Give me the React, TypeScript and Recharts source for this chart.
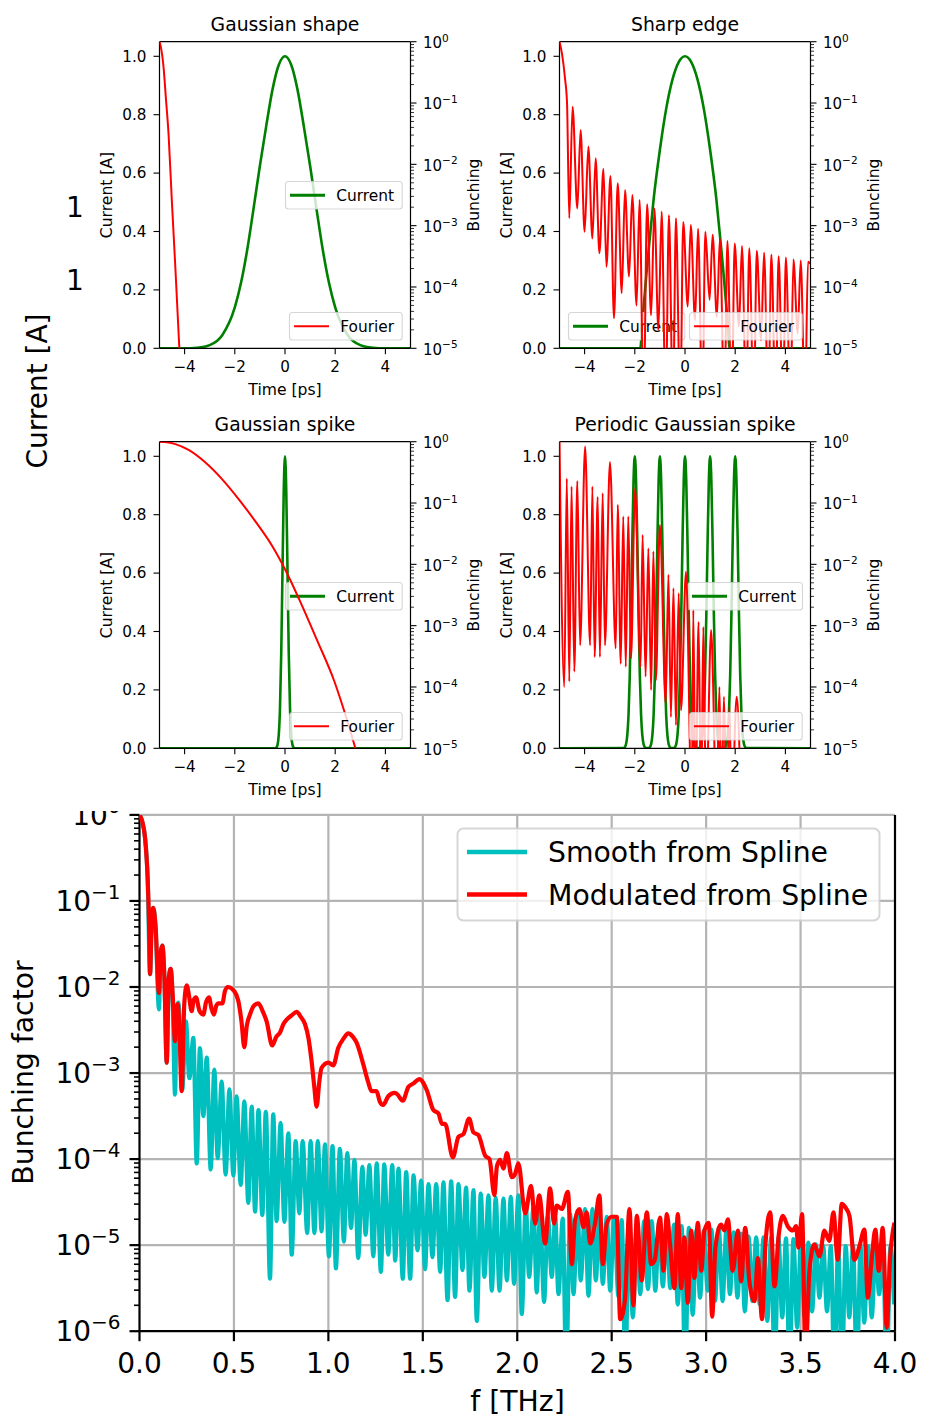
import React from 'react';
import { ComposedChart, Line, XAxis, YAxis, ReferenceLine } from 'recharts';

const FONT = '"DejaVu Sans", Verdana, sans-serif';
const GREEN = '#008000';
const RED = '#ff0000';
const CYAN = '#00bfbf';

// ---------------- axis ticks ----------------
const timeTicks = [-4, -2, 0, 2, 4];
const currentTicks = [0, 0.2, 0.4, 0.6, 0.8, 1.0];
const bunchMajorTicks = [1e-5, 1e-4, 1e-3, 1e-2, 1e-1, 1];
const bunchMinorDecades = [1e-5, 1e-4, 1e-3, 1e-2, 1e-1];
const minorMantissas = [2, 3, 4, 5, 6, 7, 8, 9];
const bunchMinorTicks = bunchMinorDecades.flatMap((d) => minorMantissas.map((m) => m * d));
const freqTicks = [0, 0.5, 1.0, 1.5, 2.0, 2.5, 3.0, 3.5, 4.0];
const freqGrid = [0.5, 1.0, 1.5, 2.0, 2.5, 3.0, 3.5];
const bigMajorTicks = [1e-6, 1e-5, 1e-4, 1e-3, 1e-2, 1e-1, 1];
const bigMinorDecades = [1e-6, 1e-5, 1e-4, 1e-3, 1e-2, 1e-1];
const bigMinorTicks = bigMinorDecades.flatMap((d) => minorMantissas.map((m) => m * d));
const bigGrid = [1e-5, 1e-4, 1e-3, 1e-2, 1e-1, 1];

// ---------------- panel 1: Gaussian shape ----------------
const gaussTime = [-5, -4, -3.5, -3, -2.5, -2, -1.75, -1.5, -1.25, -1, -0.75, -0.5, -0.25, 0, 0.25, 0.5, 0.75, 1, 1.25, 1.5, 1.75, 2, 2.5, 3, 3.5, 4, 5];
const gaussCurrent = [0, 0, 0.002, 0.011, 0.045, 0.14, 0.225, 0.34, 0.48, 0.625, 0.76, 0.885, 0.97, 1, 0.97, 0.885, 0.76, 0.625, 0.48, 0.34, 0.225, 0.14, 0.045, 0.011, 0.002, 0, 0];
// [time, log10 bunching]
const gaussFourier: [number, number][] = [
  [-5, 0], [-4.95, -0.08], [-4.9, -0.2], [-4.84, -0.41], [-4.74, -0.95], [-4.64, -1.5],
  [-4.51, -2.58], [-4.37, -3.67], [-4.21, -5.0], [-4.1, -6.0],
];

// ---------------- panel 2: Sharp edge ----------------
const sharpTime = [-5, -1.78, -1.7, -1.6, -1.5, -1.4, -1.25, -1, -0.75, -0.5, -0.25, 0, 0.25, 0.5, 0.75, 1, 1.25, 1.4, 1.5, 1.6, 1.7, 1.78, 5];
const sharpCurrent = [0, 0, 0.09, 0.19, 0.29, 0.38, 0.51, 0.68, 0.82, 0.92, 0.98, 1, 0.98, 0.92, 0.82, 0.68, 0.51, 0.38, 0.29, 0.19, 0.09, 0, 0];
const sharpFourier: [number, number][] = [
  [-5, 0], [-4.9, -0.2], [-4.78, -0.6], [-4.7, -1.0],
  [-4.61, -2.88], [-4.48, -1.06], [-4.29, -2.72], [-4.16, -1.44], [-4.0, -3.1], [-3.85, -1.71],
  [-3.69, -3.21], [-3.56, -1.9], [-3.41, -3.45], [-3.25, -2.07], [-3.13, -3.67], [-2.97, -2.19],
  [-2.83, -4.51], [-2.68, -2.31], [-2.52, -4.1], [-2.39, -2.42], [-2.23, -3.83], [-2.1, -2.5],
  [-1.93, -4.3], [-1.81, -2.58], [-1.65, -6], [-1.51, -2.65], [-1.35, -4.46], [-1.22, -2.72],
  [-1.06, -4.7], [-0.93, -2.77], [-0.77, -6], [-0.64, -2.83], [-0.48, -6], [-0.36, -2.88],
  [-0.19, -6], [-0.07, -2.94], [0.11, -4.32], [0.23, -2.99], [0.4, -4.54], [0.52, -3.05],
  [0.69, -6], [0.81, -3.1], [0.98, -4.21], [1.1, -3.15], [1.27, -4.49], [1.39, -3.21],
  [1.57, -6], [1.69, -3.25], [1.86, -6], [1.98, -3.29], [2.15, -4.65], [2.27, -3.33],
  [2.44, -6], [2.56, -3.37], [2.74, -6], [2.86, -3.41], [3.03, -4.87], [3.15, -3.44],
  [3.32, -6], [3.44, -3.47], [3.61, -6], [3.73, -3.5], [3.9, -6], [4.02, -3.52],
  [4.2, -6], [4.32, -3.55], [4.49, -4.76], [4.61, -3.57], [4.78, -6], [4.9, -3.59], [5.0, -3.62],
];

// ---------------- panel 3: Gaussian spike ----------------
const spikeTime = [-5, -0.4, -0.35, -0.3, -0.25, -0.2, -0.15, -0.1, -0.05, 0, 0.05, 0.1, 0.15, 0.2, 0.25, 0.3, 0.35, 0.4, 5];
const spikeCurrent = [0, 0, 0.002, 0.011, 0.044, 0.135, 0.325, 0.607, 0.882, 1, 0.882, 0.607, 0.325, 0.135, 0.044, 0.011, 0.002, 0, 0];
const spikeFourier: [number, number][] = [
  [-5, 0], [-4.7, -0.01], [-4.37, -0.04], [-3.84, -0.135], [-3.17, -0.34], [-2.51, -0.61],
  [-1.84, -0.94], [-1.18, -1.3], [-0.51, -1.7], [0.05, -2.12], [0.62, -2.62], [1.28, -3.24],
  [1.95, -3.89], [2.35, -4.38], [2.79, -4.98], [3.2, -5.6],
];

// ---------------- panel 4: Periodic Gaussian spike ----------------
const periodicCenters = [-2, -1, 0, 1, 2];
const periodicOffsets = [-0.45, -0.4, -0.35, -0.3, -0.25, -0.2, -0.15, -0.1, -0.05, 0, 0.05, 0.1, 0.15, 0.2, 0.25, 0.3, 0.35, 0.4, 0.45];
const periodicShape = [0.001, 0.004, 0.014, 0.044, 0.114, 0.25, 0.458, 0.707, 0.917, 1, 0.917, 0.707, 0.458, 0.25, 0.114, 0.044, 0.014, 0.004, 0.001];
const periodicFourier: [number, number][] = [
  [-5, 0], [-4.81, -4.0], [-4.71, -0.6], [-4.61, -3.91], [-4.52, -0.73], [-4.41, -3.75],
  [-4.29, -0.64], [-4.18, -3.32], [-3.98, -0.08], [-3.78, -3.32], [-3.69, -0.73], [-3.6, -3.51],
  [-3.48, -0.9], [-3.39, -3.51], [-3.28, -0.84], [-3.19, -3.32], [-2.99, -0.33], [-2.76, -3.37],
  [-2.68, -1.03], [-2.56, -3.62], [-2.46, -1.22], [-2.36, -3.67], [-2.26, -1.22], [-2.15, -3.53],
  [-1.99, -0.76], [-1.77, -3.67], [-1.69, -1.52], [-1.57, -3.83], [-1.46, -1.74], [-1.35, -4.05],
  [-1.26, -1.79], [-1.16, -3.89], [-1.0, -1.36], [-0.77, -4.27], [-0.66, -2.17], [-0.56, -4.49],
  [-0.46, -2.39], [-0.36, -4.62], [-0.25, -2.47], [-0.16, -4.38], [0.04, -2.12], [0.27, -6],
  [0.33, -2.75], [0.42, -6], [0.54, -2.94], [0.64, -6], [0.73, -3.02], [0.84, -6],
  [1.04, -3.07], [1.26, -6], [1.37, -4.0], [1.46, -6], [1.55, -4.16], [1.66, -6],
  [1.77, -4.32], [1.86, -6], [2.06, -4.16], [2.26, -6], [2.5, -7],
];

// ---------------- bottom: bunching factor vs frequency ----------------
// [f (THz), log10 bunching]
const smoothLog: [number, number][] = [
  [0, 0], [0.015, -0.08], [0.029, -0.26], [0.043, -0.73], [0.056, -1.85], [0.065, -1.2],
  [0.073, -1.08], [0.085, -1.3], [0.103, -2.26], [0.112, -1.6], [0.121, -1.52], [0.132, -1.9],
  [0.144, -2.88], [0.155, -1.9], [0.165, -1.79], [0.176, -2.2], [0.188, -3.25], [0.197, -2.3],
  [0.206, -2.18], [0.226, -3.2], [0.246, -2.4], [0.264, -3.06], [0.285, -2.59], [0.303, -4.05],
  [0.32, -2.71], [0.338, -3.5], [0.356, -2.82], [0.377, -4.12], [0.396, -2.96], [0.414, -3.99],
  [0.435, -3.1], [0.456, -4.18], [0.476, -3.19], [0.497, -4.19], [0.514, -3.27], [0.536, -4.3],
  [0.555, -3.33], [0.576, -4.51], [0.594, -3.39], [0.612, -4.61], [0.63, -3.43], [0.65, -4.65],
  [0.669, -3.45], [0.691, -5.39], [0.708, -3.48], [0.726, -4.72], [0.747, -3.58], [0.767, -4.73],
  [0.788, -3.7], [0.806, -5.11], [0.827, -3.79], [0.846, -4.63], [0.864, -3.79], [0.888, -4.86],
  [0.906, -3.79], [0.926, -4.86], [0.944, -3.79], [0.964, -4.84], [0.982, -3.83], [1.003, -5.13],
  [1.022, -3.85], [1.04, -5.27], [1.061, -3.88], [1.082, -4.96], [1.1, -3.93], [1.12, -4.8],
  [1.138, -4.01], [1.158, -5.15], [1.18, -4.09], [1.197, -4.88], [1.217, -4.07], [1.238, -5.13],
  [1.256, -4.05], [1.278, -5.31], [1.296, -4.06], [1.317, -5.11], [1.338, -4.07], [1.354, -5.18],
  [1.371, -4.11], [1.394, -5.39], [1.412, -4.15], [1.433, -5.39], [1.451, -4.19], [1.472, -5.06],
  [1.491, -4.25], [1.512, -5.28], [1.53, -4.29], [1.551, -5.14], [1.571, -4.29], [1.592, -5.31],
  [1.609, -4.27], [1.631, -5.64], [1.65, -4.26], [1.671, -5.6], [1.689, -4.29], [1.71, -5.29],
  [1.729, -4.33], [1.747, -5.53], [1.768, -4.36], [1.786, -5.88], [1.807, -4.4], [1.826, -5.37],
  [1.848, -4.42], [1.865, -5.53], [1.886, -4.45], [1.906, -5.53], [1.927, -4.46], [1.945, -5.41],
  [1.966, -4.44], [1.983, -5.45], [2.006, -4.42], [2.024, -5.8], [2.045, -4.52], [2.063, -5.37],
  [2.086, -4.56], [2.103, -5.55], [2.121, -4.62], [2.142, -5.66], [2.162, -4.66], [2.183, -5.37],
  [2.201, -4.67], [2.218, -5.57], [2.241, -4.69], [2.259, -6.5], [2.28, -4.64], [2.298, -5.57],
  [2.319, -4.6], [2.336, -5.41], [2.359, -4.58], [2.377, -5.59], [2.398, -4.58], [2.416, -5.41],
  [2.435, -4.64], [2.453, -5.45], [2.474, -4.67], [2.492, -5.53], [2.513, -4.67], [2.536, -5.6],
  [2.553, -4.71], [2.573, -6.5], [2.59, -4.73], [2.612, -5.84], [2.633, -4.75], [2.651, -5.57],
  [2.672, -4.72], [2.692, -5.51], [2.712, -4.72], [2.731, -5.53], [2.751, -4.73], [2.771, -5.48],
  [2.791, -4.74], [2.81, -5.5], [2.83, -4.76], [2.85, -5.69], [2.87, -4.78], [2.889, -6.5],
  [2.909, -4.8], [2.929, -5.81], [2.949, -4.82], [2.968, -5.61], [2.988, -4.83], [3.008, -5.53],
  [3.028, -4.82], [3.047, -5.65], [3.067, -4.8], [3.087, -5.65], [3.107, -4.83], [3.126, -5.57],
  [3.146, -4.85], [3.166, -5.61], [3.186, -4.87], [3.205, -5.77], [3.225, -4.9], [3.245, -5.65],
  [3.265, -4.91], [3.284, -5.69], [3.304, -4.91], [3.324, -5.88], [3.344, -4.91], [3.363, -6.5],
  [3.383, -4.91], [3.403, -5.84], [3.423, -4.92], [3.442, -6.5], [3.462, -4.93], [3.482, -5.96],
  [3.502, -4.95], [3.521, -5.84], [3.541, -4.97], [3.561, -5.77], [3.581, -4.99], [3.6, -5.61],
  [3.62, -5.01], [3.64, -5.77], [3.66, -5.01], [3.679, -6.5], [3.699, -5.01], [3.719, -6.5],
  [3.739, -5.01], [3.758, -5.84], [3.778, -5.01], [3.798, -6.5], [3.818, -5.01], [3.837, -5.9],
  [3.857, -5.01], [3.877, -5.84], [3.897, -5.02], [3.916, -5.57], [3.936, -5.03], [3.956, -6.5],
  [3.976, -5.02], [3.995, -5.69],
];

const modulatedLog: [number, number][] = [
  [0, 0], [0.015, -0.08], [0.029, -0.26], [0.043, -0.73], [0.05, -1.2], [0.056, -1.85],
  [0.065, -1.2], [0.073, -1.08], [0.085, -1.3], [0.103, -2.07], [0.112, -1.6], [0.121, -1.52],
  [0.132, -1.9], [0.144, -2.88], [0.155, -1.9], [0.165, -1.79], [0.176, -2.1], [0.188, -2.63],
  [0.195, -2.3], [0.202, -2.2], [0.212, -2.5], [0.223, -3.21], [0.237, -2.2], [0.25, -1.98],
  [0.262, -2.1], [0.276, -2.28], [0.287, -2.15], [0.299, -2.12], [0.318, -2.28], [0.338, -2.32],
  [0.352, -2.18], [0.368, -2.12], [0.381, -2.25], [0.394, -2.32], [0.406, -2.22], [0.418, -2.19],
  [0.439, -2.19], [0.452, -2.05], [0.467, -2.0], [0.502, -2.05], [0.523, -2.16], [0.54, -2.4],
  [0.555, -2.7], [0.568, -2.45], [0.585, -2.32], [0.605, -2.22], [0.629, -2.19], [0.652, -2.28],
  [0.673, -2.4], [0.703, -2.68], [0.724, -2.58], [0.744, -2.53], [0.762, -2.43], [0.779, -2.38],
  [0.805, -2.33], [0.832, -2.29], [0.855, -2.35], [0.876, -2.43], [0.895, -2.6], [0.911, -2.86],
  [0.925, -3.15], [0.938, -3.39], [0.952, -3.1], [0.964, -2.94], [1.0, -2.88], [1.026, -2.91],
  [1.052, -2.71], [1.08, -2.6], [1.105, -2.54], [1.13, -2.58], [1.15, -2.65], [1.185, -2.9],
  [1.21, -3.1], [1.228, -3.21], [1.255, -3.21], [1.272, -3.33], [1.29, -3.37], [1.317, -3.27],
  [1.35, -3.23], [1.362, -3.24], [1.394, -3.32], [1.424, -3.16], [1.451, -3.12], [1.482, -3.07],
  [1.521, -3.2], [1.556, -3.43], [1.583, -3.47], [1.601, -3.59], [1.618, -3.59], [1.659, -3.98],
  [1.689, -3.74], [1.715, -3.71], [1.745, -3.53], [1.768, -3.69], [1.794, -3.72], [1.83, -3.96],
  [1.853, -4.0], [1.879, -4.42], [1.892, -4.09], [1.909, -4.01], [1.927, -4.11], [1.945, -3.93],
  [1.971, -4.21], [1.989, -4.17], [2.006, -4.05], [2.042, -4.63], [2.073, -4.31], [2.095, -4.75],
  [2.116, -4.42], [2.148, -4.98], [2.174, -4.34], [2.195, -4.75], [2.209, -4.54], [2.236, -4.58],
  [2.268, -4.38], [2.289, -5.22], [2.306, -4.71], [2.329, -4.58], [2.351, -4.79], [2.368, -4.62],
  [2.386, -4.98], [2.412, -4.75], [2.435, -4.42], [2.453, -5.22], [2.474, -4.75], [2.5, -4.67],
  [2.527, -4.67], [2.545, -5.86], [2.57, -5.64], [2.594, -4.58], [2.615, -5.7], [2.633, -4.66],
  [2.659, -5.41], [2.686, -4.62], [2.709, -5.22], [2.727, -5.18], [2.756, -4.68], [2.774, -5.3],
  [2.792, -4.64], [2.809, -4.99], [2.832, -5.5], [2.85, -4.64], [2.868, -5.5], [2.885, -4.91],
  [2.903, -5.67], [2.921, -4.83], [2.938, -5.38], [2.956, -4.74], [2.974, -5.3], [2.991, -4.83],
  [3.014, -4.74], [3.032, -5.83], [3.049, -5.03], [3.079, -4.76], [3.097, -4.83], [3.115, -4.7],
  [3.141, -5.3], [3.168, -4.83], [3.185, -5.42], [3.207, -4.8], [3.229, -5.42], [3.256, -5.65],
  [3.274, -5.15], [3.296, -5.86], [3.314, -4.99], [3.339, -4.62], [3.362, -5.48], [3.385, -4.87],
  [3.406, -4.66], [3.432, -4.78], [3.459, -4.83], [3.476, -4.78], [3.489, -5.03], [3.508, -4.64],
  [3.526, -6.3], [3.547, -5.3], [3.573, -4.99], [3.6, -5.13], [3.626, -4.83], [3.652, -4.95],
  [3.674, -4.62], [3.697, -5.17], [3.718, -4.52], [3.737, -4.56], [3.759, -4.66], [3.785, -5.17],
  [3.812, -5.01], [3.838, -4.82], [3.856, -5.61], [3.877, -5.15], [3.896, -4.82], [3.914, -5.3],
  [3.935, -4.8], [3.956, -5.96], [3.974, -5.15], [3.997, -4.74],
];

// ---------------- tables ----------------
type Pt = { x: number; y: number };
const linTable = (xs: number[], ys: number[]): Pt[] => xs.map((x, i) => ({ x, y: ys[i] }));
const logTable = (pairs: [number, number][]): Pt[] => pairs.map(([x, l]) => ({ x, y: Math.pow(10, l) }));

const gaussCurrentTable = linTable(gaussTime, gaussCurrent);
const sharpCurrentTable = linTable(sharpTime, sharpCurrent);
const spikeCurrentTable = linTable(spikeTime, spikeCurrent);
const periodicCurrentTable: Pt[] = [
  { x: -5, y: 0 },
  ...periodicCenters.flatMap((c) => periodicOffsets.map((o, i) => ({ x: c + o, y: periodicShape[i] }))),
  { x: 5, y: 0 },
];
const gaussFourierTable = logTable(gaussFourier);
const sharpFourierTable = logTable(sharpFourier);
const spikeFourierTable = logTable(spikeFourier);
const periodicFourierTable = logTable(periodicFourier);
const smoothTable = logTable(smoothLog);
const modulatedTable = logTable(modulatedLog);

// ---------------- helpers ----------------
const minus = (n: number) => (n < 0 ? '\u2212' + Math.abs(n) : String(n));
const isMajor = (v: number, majors: number[]) => majors.some((m) => Math.abs(v / m - 1) < 1e-6);

function SmallLogTick(props: any) {
  const { x, y, payload } = props;
  const v = payload.value as number;
  const major = isMajor(v, bunchMajorTicks);
  const exp = Math.round(Math.log10(v));
  return (
    <g>
      <line x1={x} x2={x + (major ? 6 : 3.5)} y1={y} y2={y} stroke="#000" strokeWidth={major ? 1.1 : 0.8} />
      {major && (
        <text x={x + 12.5} y={y + 6.2} fontSize={15} fill="#000" fontFamily={FONT}>
          10
          <tspan dy={-6.2} fontSize={10.5}>
            {minus(exp)}
          </tspan>
        </text>
      )}
    </g>
  );
}

function BigLogTick(props: any) {
  const { x, y, payload } = props;
  const v = payload.value as number;
  const major = isMajor(v, bigMajorTicks);
  const exp = Math.round(Math.log10(v));
  return (
    <g>
      <line x1={x - (major ? 10 : 5.5)} x2={x} y1={y} y2={y} stroke="#000" strokeWidth={major ? 2.2 : 1.6} />
      {major && (
        <text x={x - 19} y={y + 10.2} fontSize={28} fill="#000" fontFamily={FONT} textAnchor="end">
          10
          <tspan dy={-12} fontSize={20}>
            {minus(exp)}
          </tspan>
        </text>
      )}
    </g>
  );
}

type Row = { label: string; color: string; lw: number; cy: number };
function LegendBox(p: {
  left: number; top: number; width: number; height: number; rows: Row[];
  fontSize: number; pad: number; len: number; gap: number; radius: number; edge: number;
}) {
  return (
    <svg style={{ position: 'absolute', left: p.left, top: p.top, overflow: 'visible' }} width={p.width} height={p.height}>
      <rect x={0.5} y={0.5} width={p.width - 1} height={p.height - 1} rx={p.radius} ry={p.radius}
        fill="#ffffff" fillOpacity={0.8} stroke="#cccccc" strokeOpacity={0.8} strokeWidth={p.edge} />
      {p.rows.map((r, i) => (
        <g key={i}>
          <line x1={p.pad} x2={p.pad + p.len} y1={r.cy} y2={r.cy} stroke={r.color} strokeWidth={r.lw} />
          <text x={p.pad + p.len + p.gap} y={r.cy + 0.365 * p.fontSize} fontSize={p.fontSize} fontFamily={FONT} fill="#000">
            {r.label}
          </text>
        </g>
      ))}
    </svg>
  );
}

// ---------------- small panel ----------------
const PANEL_W = 480;
const PANEL_H = 400;
const PL = 159.5;
const PR = 410.5;
const PT = 41.7;
const PB = 348.3;
const LAX_W = 60;
const RAX_W = 60;
const XAX_H = 40;
const LEG_H = 28.5;

type LegPos = { left: number; top: number; width: number };

function SmallLegend({ pos, ox, oy, label, color, lw }: { pos: LegPos; ox: number; oy: number; label: string; color: string; lw: number }) {
  return (
    <LegendBox left={pos.left - ox} top={pos.top - oy} width={pos.width} height={LEG_H}
      rows={[{ label, color, lw, cy: LEG_H / 2 }]} fontSize={15.4} pad={5} len={35} gap={11.3} radius={3} edge={1.1} />
  );
}

function Panel(props: { ox: number; oy: number; current: Pt[]; fourier: Pt[]; curLeg: LegPos; fouLeg: LegPos }) {
  const { ox, oy, current, fourier, curLeg, fouLeg } = props;
  return (
    <div style={{ position: 'absolute', left: ox, top: oy, width: PANEL_W, height: PANEL_H }}>
      <div style={{ position: 'absolute', left: 0, top: 0 }}>
        <ComposedChart width={PANEL_W} height={PANEL_H}
          margin={{ top: PT, left: PL - LAX_W, right: PANEL_W - PR, bottom: PANEL_H - PB - XAX_H }}>
          <XAxis type="number" dataKey="x" domain={[-5, 5]} allowDataOverflow ticks={timeTicks} interval={0}
            tickFormatter={(v: number) => minus(v)} height={XAX_H} tickSize={6} tickMargin={7}
            tick={{ fontSize: 15.2, fill: '#000', fontFamily: FONT }}
            axisLine={{ stroke: '#000', strokeWidth: 1.2 }} tickLine={{ stroke: '#000', strokeWidth: 1.1 }} />
          <YAxis type="number" domain={[0, 1.05]} allowDataOverflow ticks={currentTicks} interval={0}
            tickFormatter={(v: number) => v.toFixed(1)} width={LAX_W} tickSize={6} tickMargin={7}
            tick={{ fontSize: 15.2, fill: '#000', fontFamily: FONT }}
            axisLine={{ stroke: '#000', strokeWidth: 1.2 }} tickLine={{ stroke: '#000', strokeWidth: 1.1 }} />
          <ReferenceLine y={1.05} stroke="#000" strokeWidth={1.2} />
          <Line data={current} dataKey="y" type="monotone" stroke={GREEN} strokeWidth={2.6} dot={false}
            isAnimationActive={false} />
        </ComposedChart>
      </div>
      <SmallLegend pos={curLeg} ox={ox} oy={oy} label="Current" color={GREEN} lw={3} />
      <div style={{ position: 'absolute', left: 0, top: 0 }}>
        <ComposedChart width={PANEL_W} height={PANEL_H}
          margin={{ top: PT, left: PL, right: PANEL_W - PR - RAX_W, bottom: PANEL_H - PB }}>
          <XAxis type="number" dataKey="x" domain={[-5, 5]} allowDataOverflow hide />
          <YAxis yAxisId="b" orientation="right" type="number" scale="log" domain={[1e-5, 1]} allowDataOverflow
            ticks={[...bunchMajorTicks, ...bunchMinorTicks]} interval={0} width={RAX_W}
            tickSize={0} tickMargin={0} tickLine={false}
            tick={(tp: any) => <SmallLogTick {...tp} />}
            axisLine={{ stroke: '#000', strokeWidth: 1.2 }} />
          <Line yAxisId="b" data={fourier} dataKey="y" type="monotone" stroke={RED} strokeWidth={2} dot={false}
            isAnimationActive={false} />
        </ComposedChart>
      </div>
      <SmallLegend pos={fouLeg} ox={ox} oy={oy} label="Fourier" color={RED} lw={2} />
    </div>
  );
}

// ---------------- big chart ----------------
const BIG_TOP = 810.5;
const BIG_W = 941;
const BIG_H = 1417 - BIG_TOP;
const BL = 139.5;
const BR = 895;
const BT = 814.4 - BIG_TOP;
const BB = 1330.7 - BIG_TOP;

function BigChart() {
  return (
    <div style={{ position: 'absolute', left: 0, top: BIG_TOP, width: BIG_W, height: BIG_H, overflow: 'hidden' }}>
      <div style={{ position: 'absolute', left: 0, top: 0 }}>
        <ComposedChart width={BIG_W} height={BIG_H} margin={{ top: BT, left: 0, right: BIG_W - BR, bottom: 0 }}>
          <XAxis type="number" dataKey="x" domain={[0, 4]} allowDataOverflow ticks={freqTicks} interval={0}
            tickFormatter={(v: number) => v.toFixed(1)} height={BIG_H - BB} tickSize={10} tickMargin={12}
            tick={{ fontSize: 28, fill: '#000', fontFamily: FONT }}
            axisLine={{ stroke: '#000', strokeWidth: 2.2 }} tickLine={{ stroke: '#000', strokeWidth: 2.2 }} />
          <YAxis type="number" scale="log" domain={[1e-6, 1]} allowDataOverflow
            ticks={[...bigMajorTicks, ...bigMinorTicks]} interval={0} width={BL}
            tickSize={0} tickMargin={0} tickLine={false}
            tick={(tp: any) => <BigLogTick {...tp} />}
            axisLine={{ stroke: '#000', strokeWidth: 2.2 }} />
          {freqGrid.map((f) => (
            <ReferenceLine key={'gx' + f} x={f} stroke="#b4b4b4" strokeWidth={2.2} />
          ))}
          {bigGrid.map((g) => (
            <ReferenceLine key={'gy' + g} y={g} stroke="#b4b4b4" strokeWidth={2.2} />
          ))}
          <Line data={smoothTable} dataKey="y" stroke="none" dot={false} isAnimationActive={false} />
        </ComposedChart>
      </div>
      <div style={{ position: 'absolute', left: 0, top: 0 }}>
        <ComposedChart width={BIG_W} height={BIG_H}
          margin={{ top: BT, left: BL, right: BIG_W - BR, bottom: BIG_H - BB }}>
          <XAxis type="number" dataKey="x" domain={[0, 4]} allowDataOverflow hide />
          <YAxis type="number" scale="log" domain={[1e-6, 1]} allowDataOverflow hide />
          <Line data={smoothTable} dataKey="y" type="monotone" stroke={CYAN} strokeWidth={4.2} dot={false}
            isAnimationActive={false} />
          <Line data={modulatedTable} dataKey="y" type="monotone" stroke={RED} strokeWidth={4.2} dot={false}
            isAnimationActive={false} />
          <ReferenceLine x={4} stroke="#000" strokeWidth={2.2} />
        </ComposedChart>
      </div>
      <LegendBox left={457} top={828 - BIG_TOP} width={423} height={93}
        rows={[
          { label: 'Smooth from Spline', color: CYAN, lw: 4.5, cy: 24 },
          { label: 'Modulated from Spline', color: RED, lw: 4.5, cy: 66.5 },
        ]}
        fontSize={28.3} pad={10} len={60} gap={21} radius={6} edge={2} />
    </div>
  );
}

// ---------------- static texts ----------------
function Texts() {
  const t = (x: number, y: number, s: string, fs: number) => (
    <text x={x} y={y} fontSize={fs} fontFamily={FONT} fill="#000" textAnchor="middle">
      {s}
    </text>
  );
  const r = (x: number, y: number, s: string, fs: number) => (
    <text x={x} y={y} fontSize={fs} fontFamily={FONT} fill="#000" textAnchor="middle" transform={`rotate(-90 ${x} ${y})`}>
      {s}
    </text>
  );
  return (
    <svg style={{ position: 'absolute', left: 0, top: 0, pointerEvents: 'none' }} width={941} height={1417}>
      {t(285, 30.5, 'Gaussian shape', 18.8)}
      {t(685, 30.5, 'Sharp edge', 18.8)}
      {t(285, 430.5, 'Gaussian spike', 18.8)}
      {t(685, 430.5, 'Periodic Gaussian spike', 18.8)}
      {t(285, 394.5, 'Time [ps]', 15.6)}
      {t(685, 394.5, 'Time [ps]', 15.6)}
      {t(285, 794.5, 'Time [ps]', 15.6)}
      {t(685, 794.5, 'Time [ps]', 15.6)}
      {r(112, 195, 'Current [A]', 15.6)}
      {r(512, 195, 'Current [A]', 15.6)}
      {r(112, 595, 'Current [A]', 15.6)}
      {r(512, 595, 'Current [A]', 15.6)}
      {r(478.5, 195, 'Bunching', 15.6)}
      {r(878.5, 195, 'Bunching', 15.6)}
      {r(478.5, 595, 'Bunching', 15.6)}
      {r(878.5, 595, 'Bunching', 15.6)}
      {r(46.5, 391, 'Current [A]', 28)}
      {t(75, 217, '1', 28)}
      {t(75, 290, '1', 28)}
      {r(33, 1072.5, 'Bunching factor', 28.3)}
      {t(517.5, 1411, 'f [THz]', 28.3)}
    </svg>
  );
}

export default function App() {
  return (
    <div style={{ position: 'absolute', left: 0, top: 0, width: 941, height: 1417, background: '#ffffff', fontFamily: FONT, overflow: 'hidden' }}>
      <Panel ox={0} oy={0} current={gaussCurrentTable} fourier={gaussFourierTable}
        curLeg={{ left: 285, top: 181, width: 117.7 }} fouLeg={{ left: 289, top: 312, width: 113.7 }} />
      <Panel ox={400} oy={0} current={sharpCurrentTable} fourier={sharpFourierTable}
        curLeg={{ left: 567.7, top: 312, width: 117.3 }} fouLeg={{ left: 689, top: 312, width: 113.7 }} />
      <Panel ox={0} oy={400} current={spikeCurrentTable} fourier={spikeFourierTable}
        curLeg={{ left: 285, top: 581.5, width: 117.7 }} fouLeg={{ left: 289, top: 712, width: 113.7 }} />
      <Panel ox={400} oy={400} current={periodicCurrentTable} fourier={periodicFourierTable}
        curLeg={{ left: 686.7, top: 581.5, width: 116 }} fouLeg={{ left: 689, top: 712, width: 113.7 }} />
      <BigChart />
      <Texts />
    </div>
  );
}
